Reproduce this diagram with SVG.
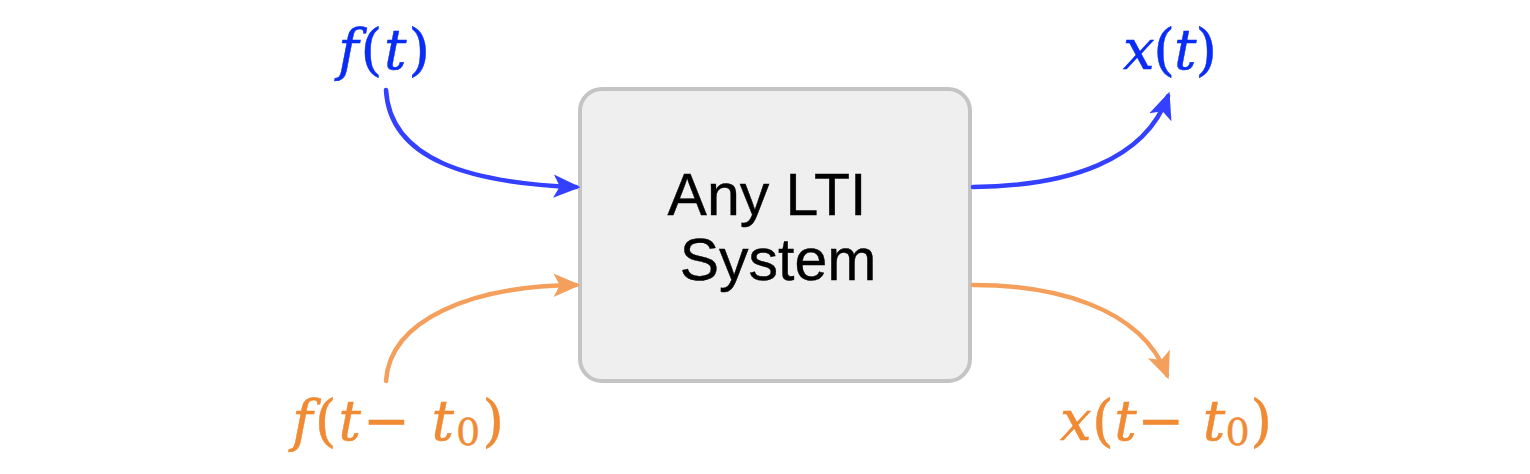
<svg xmlns="http://www.w3.org/2000/svg" width="1530" height="474" viewBox="0 0 1530 474">
<style>
.blue{stroke:#3340ff;fill:none;stroke-width:4.5;stroke-linecap:round}
.orange{stroke:#f4a05c;fill:none;stroke-width:4.5;stroke-linecap:round}
.lblb{fill:#0a2df5;stroke:#0a2df5;stroke-width:0.45;font-family:"DejaVu Serif",serif;font-size:56px}
.lblo{fill:#f08a33;stroke:#f08a33;stroke-width:0.45;font-family:"DejaVu Serif",serif;font-size:56px}
.it{font-style:italic}
.box{fill:#efefef;stroke:#c4c4c4;stroke-width:4}
.bt{font-family:"Liberation Sans",Arial,sans-serif;font-size:59px;fill:#000;stroke:#000;stroke-width:0.4;text-anchor:middle}
</style>
<defs>
<marker id="ab" markerWidth="6" markerHeight="6" refX="5" refY="3" orient="auto" markerUnits="strokeWidth" viewBox="0 0 6 6"><path d="M0,0.4 L6,3 L0,5.6 L1.4,3 Z" fill="#3340ff"/></marker>
<marker id="ao" markerWidth="6" markerHeight="6" refX="5" refY="3" orient="auto" markerUnits="strokeWidth" viewBox="0 0 6 6"><path d="M0,0.4 L6,3 L0,5.6 L1.4,3 Z" fill="#f4a05c"/></marker>
</defs>
<g id="system">
<rect class="box" x="580" y="89" width="390" height="292" rx="22"/>
<text class="bt" x="767" y="215">Any LTI</text>
<text class="bt" x="778" y="280">System</text>
</g>
<g id="label-ft"><text class="lblb" x="338" y="69" textLength="92" lengthAdjust="spacing"><tspan class="it">f</tspan>(<tspan class="it">t</tspan>)</text></g>
<g id="label-xt"><text class="lblb" x="1123" y="69" textLength="94" lengthAdjust="spacing"><tspan class="it">x</tspan>(<tspan class="it">t</tspan>)</text></g>
<g id="label-ftt0"><text class="lblo" x="292" y="440" textLength="212" lengthAdjust="spacing"><tspan class="it">f</tspan>(<tspan class="it">t</tspan>− <tspan class="it">t</tspan><tspan font-size="38" dy="5">0</tspan><tspan dy="-5">)</tspan></text></g>
<g id="label-xtt0"><text class="lblo" x="1060" y="440" textLength="212" lengthAdjust="spacing"><tspan class="it">x</tspan>(<tspan class="it">t</tspan>− <tspan class="it">t</tspan><tspan font-size="38" dy="5">0</tspan><tspan dy="-5">)</tspan></text></g>
<g id="connectors">
<path class="blue" d="M386,90 C390,160 470,183 576,187" marker-end="url(#ab)"/>
<path class="blue" d="M973,187 C1070,186 1145,160 1168,96" marker-end="url(#ab)"/>
<path class="orange" d="M386,381 C390,320 470,286 576,285" marker-end="url(#ao)"/>
<path class="orange" d="M973,285 C1050,285 1140,305 1167,375" marker-end="url(#ao)"/>
</g>
</svg>
